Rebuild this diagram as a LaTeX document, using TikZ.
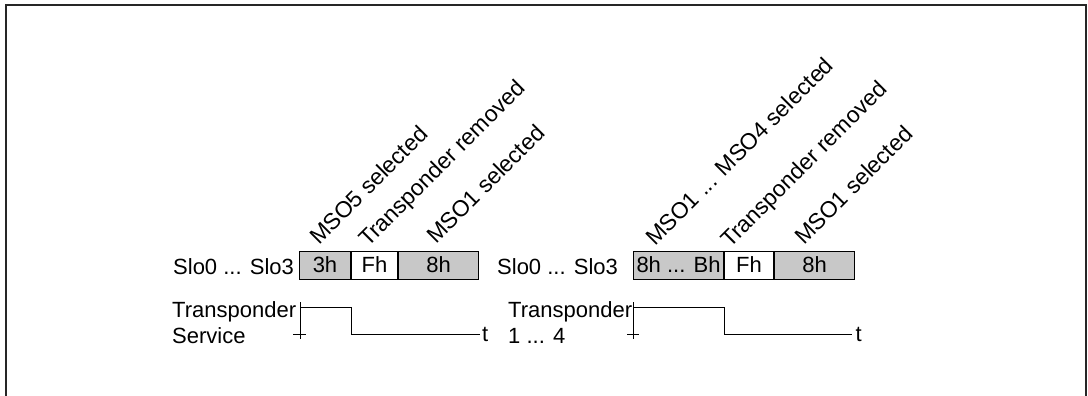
\documentclass[tikz,border=0pt]{standalone}
\usepackage{fontspec}
\setmainfont{Liberation Sans}
\usetikzlibrary{positioning}
\definecolor{cellgray}{RGB}{200,200,200}
\tikzset{
  cell/.style={draw, line width=1pt, minimum height=28pt, inner sep=0pt, anchor=west},
  slanted/.style={rotate=45, anchor=base west, inner sep=0pt, font=\fontsize{22.8}{27}\selectfont},
  wave/.style={line width=1pt}
}
\begin{document}
\begin{tikzpicture}[x=1pt, y=-1pt, font=\fontsize{22}{26}\selectfont]
  \useasboundingbox (0,0) rectangle (1088,396);
  % frame
  \draw[line width=1.6pt, black!85] (6,396) -- (6,5) -- (1086,5) -- (1086,396);

  % left register
  \node[anchor=base west, inner sep=0pt] (lslo) at (173,274) {Slo0 ... Slo3};
  \node[cell, fill=cellgray, minimum width=51pt] (l3h) at (299,265) {3h};
  \node[cell, fill=white, minimum width=46pt, right=0pt of l3h] (lfh) {Fh};
  \node[cell, fill=cellgray, minimum width=80pt, right=0pt of lfh] (l8h) {8h};

  \node[slanted] (lmso5) at (319,246) {MSO5 selected};
  \node[slanted] (lrem) at (368,248) {Transponder removed};
  \node[slanted] (lmso1) at (436,245) {MSO1 selected};

  % right register
  \node[anchor=base west, inner sep=0pt] (rslo) at (497,274) {Slo0 ... Slo3};
  \node[cell, fill=cellgray, minimum width=90pt] (r8b) at (633,265) {8h ... Bh};
  \node[cell, fill=white, minimum width=49pt, right=0pt of r8b] (rfh) {Fh};
  \node[cell, fill=cellgray, minimum width=80pt, right=0pt of rfh] (r8h) {8h};

  \node[slanted] (rmso14) at (655,247) {MSO1 ... MSO4 selected};
  \node[slanted] (rrem) at (730,249) {Transponder removed};
  \node[slanted] (rmso1) at (804,246) {MSO1 selected};

  % left timing
  \node[anchor=north west, align=left, inner sep=0pt] (lsig) at (172,301) {Transponder\\Service};
  \draw[wave] (300,302) -- (300,339);
  \draw[wave] (293,334) -- (306,334);
  \draw[wave] (300,307) -- (l3h.east |- 0,307) -- (l3h.east |- 0,334) -- (480,334)
    node[anchor=west, inner sep=1.5pt] (lt) {t};

  % right timing
  \node[anchor=north west, align=left, inner sep=0pt] (rsig) at (508,301) {Transponder\\1 ... 4};
  \draw[wave] (633,302) -- (633,339);
  \draw[wave] (627,334) -- (639,334);
  \draw[wave] (633,307) -- (r8b.east |- 0,307) -- (r8b.east |- 0,334) -- (852,334)
    node[anchor=west, inner sep=3pt] (rt) {t};
\end{tikzpicture}
\end{document}
